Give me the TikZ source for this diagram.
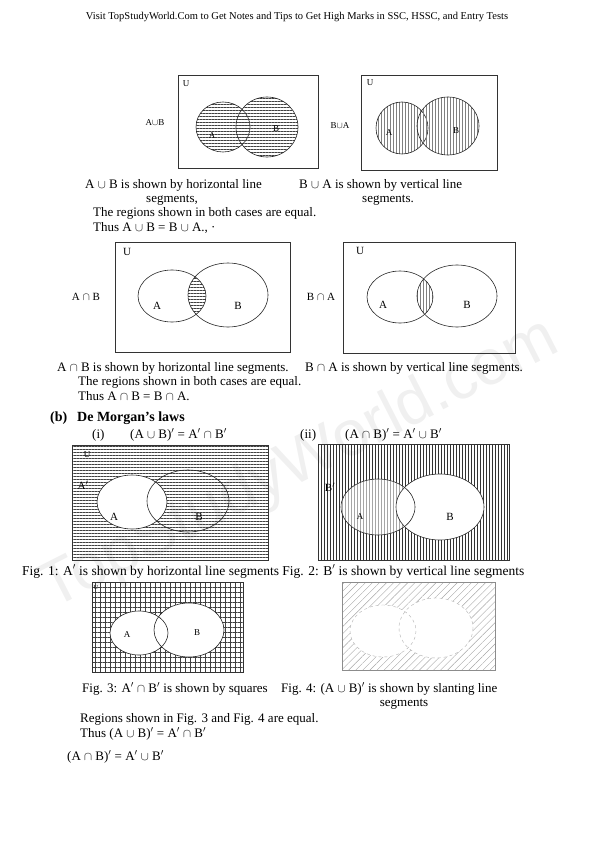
\documentclass[tikz,border=0pt]{standalone}
\usepackage{fontspec}
\setmainfont{Liberation Serif}
\setsansfont{Liberation Sans}
\usetikzlibrary{patterns.meta}

\begin{document}
\begin{tikzpicture}[x=1pt, y=-1pt,
    txt/.style={anchor=base west, inner sep=0pt, font=\fontsize{13}{15}\selectfont},
    ctr/.style={anchor=base, inner sep=0pt, font=\fontsize{13}{15}\selectfont},
    lbl/.style={inner sep=0pt, font=\fontsize{11}{13}\selectfont},
    sml/.style={inner sep=0pt, font=\fontsize{9}{11}\selectfont},
    frame/.style={draw=black!80, line width=0.6pt},
    rim/.style={draw=black!85, line width=0.6pt},
    hfill/.style={pattern={Lines[angle=0, distance=3pt, line width=0.5pt]}, pattern color=black!75},
    vfill/.style={pattern={Lines[angle=90, distance=3pt, line width=0.5pt]}, pattern color=black!50},
    vdark/.style={pattern={Lines[angle=90, distance=3pt, line width=0.6pt]}, pattern color=black!80},
    sqfill/.style={pattern={Hatch[angle=0, distance=5pt, line width=0.5pt]}, pattern color=black!75},
    sfill/.style={pattern={Lines[angle=45, distance=5pt, line width=0.4pt]}, pattern color=black!35}
]
\useasboundingbox (0,0) rectangle (595,842);

% Watermark
\node[rotate=27, text=black!6, font=\fontsize{64}{64}\sffamily] (mark) at (300,465) {TopStudyWorld.com};

% Header
\node[inner sep=0pt, font=\fontsize{10.5}{12}\selectfont] (head) at (297,17) {Visit TopStudyWorld.Com to Get Notes and Tips to Get High Marks in SSC, HSSC, and Entry Tests};

% Row 1: A union B (horizontal lines)
\coordinate (a1) at (223,127);
\coordinate (b1) at (267,127);
\draw[frame] (178,75) rectangle (318,168);
\path[hfill, rim] (a1) ellipse [x radius=27, y radius=25];
\path[hfill, rim] (b1) ellipse [x radius=31, y radius=30];
\node[sml] (u1) at (186,84) {U};
\node[sml] (n1) at (155,123) {A$\cup$B};
\node[sml] (la1) at (212,136) {A};
\node[sml] (lb1) at (276,129) {B};

% Row 1: B union A (vertical lines)
\coordinate (a2) at (402,128);
\coordinate (b2) at (448,126);
\draw[frame] (361,75) rectangle (497,170);
\path[vfill, rim] (a2) ellipse [x radius=26, y radius=26];
\path[vfill, rim] (b2) ellipse [x radius=31, y radius=29];
\node[sml] (u2) at (370,83) {U};
\node[sml] (n2) at (340,126) {B$\cup$A};
\node[sml] (la2) at (389,133) {A};
\node[sml] (lb2) at (456,131) {B};

% Row 1 text
\node[txt] (t1) at (85,189) {A $\cup$ B is shown by horizontal line};
\node[txt] (t2) at (146,203) {segments,};
\node[txt] (t3) at (299,189) {B $\cup$ A is shown by vertical line};
\node[txt] (t4) at (362,203) {segments.};
\node[txt] (t5) at (93,217) {The regions shown in both cases are equal.};
\node[txt] (t6) at (93,232) {Thus A $\cup$ B = B $\cup$ A., ·};

% Row 2: A intersection B (horizontal lines)
\coordinate (a3) at (172,296);
\coordinate (b3) at (228,295);
\draw[frame] (115,242) rectangle (290,352);
\begin{scope}
  \clip (a3) ellipse [x radius=34, y radius=26];
  \fill[hfill] (b3) ellipse [x radius=40, y radius=32];
\end{scope}
\draw[rim] (a3) ellipse [x radius=34, y radius=26];
\draw[rim] (b3) ellipse [x radius=40, y radius=32];
\node[lbl] (u3) at (127,252) {U};
\node[lbl] (n3) at (86,297) {A $\cap$ B};
\node[lbl] (la3) at (157,306) {A};
\node[lbl] (lb3) at (238,306) {B};

% Row 2: B intersection A (vertical lines)
\coordinate (a4) at (400,297);
\coordinate (b4) at (457,296);
\draw[frame] (343,242) rectangle (515,353);
\begin{scope}
  \clip (a4) ellipse [x radius=33, y radius=26];
  \fill[vfill] (b4) ellipse [x radius=40, y radius=31];
\end{scope}
\draw[rim] (a4) ellipse [x radius=33, y radius=26];
\draw[rim] (b4) ellipse [x radius=40, y radius=31];
\node[lbl] (u4) at (360,251) {U};
\node[lbl] (n4) at (321,297) {B $\cap$ A};
\node[lbl] (la4) at (383,305) {A};
\node[lbl] (lb4) at (467,305) {B};

% Row 2 text
\node[txt] (t7) at (57,371) {A $\cap$ B is shown by horizontal line segments.};
\node[txt] (t8) at (305,371) {B $\cap$ A is shown by vertical line segments.};
\node[txt] (t9) at (78,385) {The regions shown in both cases are equal.};
\node[txt] (t10) at (78,400) {Thus A $\cap$ B = B $\cap$ A.};
\node[txt, font=\fontsize{14}{16}\selectfont\bfseries] (t11) at (50,421) {(b)};
\node[txt, font=\fontsize{14}{16}\selectfont\bfseries] (t12) at (77,421) {De Morgan's laws};
\node[txt] (t13) at (92,438) {(i)};
\node[txt] (t14) at (130,438) {(A $\cup$ B)$'$ = A$'$ $\cap$ B$'$};
\node[txt] (t15) at (300,438) {(ii)};
\node[txt] (t16) at (345,438) {(A $\cap$ B)$'$ = A$'$ $\cup$ B$'$};

% Fig. 1: complement of A
\coordinate (a5) at (132,502);
\coordinate (b5) at (188,501);
\fill[hfill] (72,445) rectangle (268,560);
\fill[white] (a5) ellipse [x radius=35, y radius=27];
\draw[rim] (a5) ellipse [x radius=35, y radius=27];
\draw[rim] (b5) ellipse [x radius=41, y radius=31];
\draw[frame] (72,445) rectangle (268,560);
\node[sml] (u5) at (87,455) {U};
\node[lbl] (n5) at (83,485) {A$'$};
\node[lbl] (la5) at (114,517) {A};
\node[lbl] (lb5) at (199,517) {B};

% Fig. 2: complement of B
\coordinate (a6) at (378,507);
\coordinate (b6) at (440,507);
\fill[vdark] (318,444) rectangle (509,560);
\fill[white] (a6) ellipse [x radius=37, y radius=28];
\fill[vfill, pattern color=black!35] (a6) ellipse [x radius=37, y radius=28];
\fill[white] (b6) ellipse [x radius=44, y radius=33];
\draw[rim] (a6) ellipse [x radius=37, y radius=28];
\draw[rim] (b6) ellipse [x radius=44, y radius=33];
\draw[frame] (318,444) rectangle (509,560);
\node[lbl] (n6) at (330,487) {B$'$};
\node[sml] (la6) at (360,517) {A};
\node[lbl] (lb6) at (450,517) {B};

\node[txt, font=\fontsize{13.5}{15}\selectfont] (t17) at (22,575) {Fig. 1: A$'$ is shown by horizontal line segments Fig. 2: B$'$ is shown by vertical line segments};

% Fig. 3: A' cap B' (squares)
\coordinate (a7) at (139,633);
\coordinate (b7) at (189,630);
\fill[sqfill] (92,582) rectangle (243,672);
\fill[white] (a7) ellipse [x radius=29, y radius=22];
\fill[white] (b7) ellipse [x radius=35, y radius=27];
\draw[rim] (a7) ellipse [x radius=29, y radius=22];
\draw[rim] (b7) ellipse [x radius=35, y radius=27];
\draw[frame] (92,582) rectangle (243,672);
\node[font=\fontsize{6}{7}\selectfont, inner sep=0pt] (u7) at (96,588) {U};
\node[sml] (la7) at (127,635) {A};
\node[sml] (lb7) at (197,633) {B};

% Fig. 4: (A cup B)' (slanting lines)
\coordinate (a8) at (383,631);
\coordinate (b8) at (436,628);
\fill[sfill] (342,582) rectangle (495,670);
\fill[white] (a8) ellipse [x radius=33, y radius=26];
\fill[white] (b8) ellipse [x radius=37, y radius=30];
\draw[black!30, dashed] (a8) ellipse [x radius=33, y radius=26];
\draw[black!30, dashed] (b8) ellipse [x radius=37, y radius=30];
\draw[black!45, line width=0.5pt] (342,582) rectangle (495,670);

\node[txt] (t18) at (82,692) {Fig. 3: A$'$ $\cap$ B$'$ is shown by squares};
\node[txt] (t19) at (281,692) {Fig. 4: (A $\cup$ B)$'$ is shown by slanting line};
\node[ctr] (t20) at (404,706) {segments};

% Closing text
\node[txt] (t21) at (80,722) {Regions shown in Fig. 3 and Fig. 4 are equal.};
\node[txt] (t22) at (80,737) {Thus (A $\cup$ B)$'$ = A$'$ $\cap$ B$'$};
\node[txt] (t23) at (67,760) {(A $\cap$ B)$'$ = A$'$ $\cup$ B$'$};

\end{tikzpicture}
\end{document}
